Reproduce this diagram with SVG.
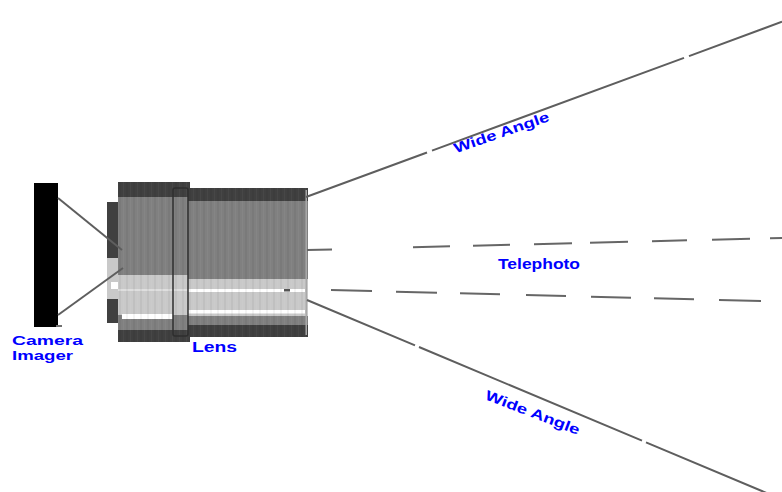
<svg xmlns="http://www.w3.org/2000/svg" width="782" height="492" viewBox="0 0 782 492">
  <style>
    .lbl { font-family: "Liberation Sans", Arial, sans-serif; font-weight: bold; font-size: 14px; fill: #0000ff; }
    .small { font-size: 13px; }
    .ray { stroke: #5e5e5e; stroke-width: 2; fill: none; }
    .dash { stroke: #666666; stroke-width: 2; fill: none; }
    .dark { fill: #404040; }
    .mid { fill: #808080; }
    .light { fill: #c9c9c9; }
    .white { fill: #ffffff; }
  </style>
  <defs>
    <!-- faint vertical ridges on the lens barrel -->
    <pattern id="ridges" width="7" height="10" patternUnits="userSpaceOnUse">
      <rect x="0" y="0" width="2" height="10" fill="#000000" fill-opacity="0.045"/>
      <rect x="4" y="0" width="1" height="10" fill="#ffffff" fill-opacity="0.04"/>
    </pattern>
  </defs>
  <rect width="782" height="492" fill="#ffffff"/>

  <!-- Camera imager -->
  <g id="imager">
    <rect x="34" y="183" width="24" height="144" fill="#000000"/>
    <rect x="56" y="325" width="6" height="2" fill="#707070"/>
  </g>

  <!-- Lens -->
  <g id="lens">
    <!-- rear mount -->
    <rect x="107" y="202" width="13" height="121" class="dark"/>
    <rect x="107" y="258" width="13" height="24" class="light"/>
    <rect x="111" y="282" width="8" height="7" class="white"/>
    <rect x="107" y="282" width="4" height="7" class="light"/>
    <rect x="107" y="289" width="13" height="10" class="light"/>

    <!-- rear barrel -->
    <rect x="118" y="182" width="72" height="160" class="mid"/>
    <rect x="118" y="182" width="72" height="15" class="dark"/>
    <rect x="118" y="275" width="72" height="40" class="light"/>
    <rect x="118" y="289" width="72" height="2" fill="#dedede"/>
    <rect x="122" y="314" width="51" height="5" class="white"/>
    <rect x="118" y="330" width="72" height="12" class="dark"/>
    <rect x="118" y="182" width="72" height="160" fill="url(#ridges)"/>

    <!-- front barrel -->
    <rect x="188" y="188" width="120" height="149" class="mid"/>
    <rect x="188" y="188" width="120" height="13" class="dark"/>
    <rect x="188" y="279" width="120" height="37" class="light"/>
    <rect x="188" y="289" width="117" height="3" class="white"/>
    <rect x="188" y="310" width="117" height="3.5" class="white"/>
    <rect x="188" y="325" width="120" height="12" class="dark"/>
    <rect x="188" y="188" width="120" height="149" fill="url(#ridges)"/>
    <rect x="305.5" y="190" width="1.5" height="145" fill="#a8a8a8"/>
    <rect x="284" y="289" width="6" height="2.5" fill="#555555"/>

    <!-- focus ring -->
    <rect x="173" y="188" width="15" height="148" rx="2" fill="none" stroke="#2e2e2e" stroke-width="1.5"/>
  </g>

  <!-- Rays -->
  <g id="connectors">
    <!-- imager to lens -->
    <path class="ray" d="M58,198 L122,250"/>
    <path class="ray" d="M58,315 L123,268"/>

    <!-- wide angle, upper -->
    <path class="ray" d="M306,197 L427,152.5 M432,150.6 L684,57.9 M689,56.1 L782,21.8"/>
    <!-- wide angle, lower -->
    <path class="ray" d="M307,300 L415,345.4 M419,347 L642,440.7 M646,442.4 L767,493.2"/>

    <!-- telephoto, upper -->
    <path class="dash" d="M307,250 L332,249.4 M413,247.3 L450,246.3 M473,245.8 L510,244.8 M534,244.2 L572,243.2 M590,242.8 L628,241.8 M652,241.2 L687,240.3 M712,239.7 L750,238.7 M770,238.2 L782,237.9"/>
    <!-- telephoto, lower -->
    <path class="dash" d="M331,290 L372,291.1 M396,291.7 L437,292.7 M460,293.3 L500,294.3 M526,295 L566,296 M591,296.7 L631,297.7 M654,298.3 L694,299.3 M719,300 L761,301"/>
  </g>

  <!-- Labels -->
  <g id="labels">
    <text class="lbl small" x="12" y="345" textLength="71" lengthAdjust="spacingAndGlyphs">Camera</text>
    <text class="lbl small" x="12" y="360" textLength="61" lengthAdjust="spacingAndGlyphs">Imager</text>
    <text class="lbl" x="192" y="352" textLength="45" lengthAdjust="spacingAndGlyphs">Lens</text>
    <text class="lbl" x="498" y="269" textLength="82" lengthAdjust="spacingAndGlyphs">Telephoto</text>
    <text class="lbl" transform="translate(503,137) rotate(-19)" text-anchor="middle" textLength="100" lengthAdjust="spacingAndGlyphs">Wide Angle</text>
    <text class="lbl" transform="translate(531,417) rotate(21)" text-anchor="middle" textLength="100" lengthAdjust="spacingAndGlyphs">Wide Angle</text>
  </g>
</svg>
